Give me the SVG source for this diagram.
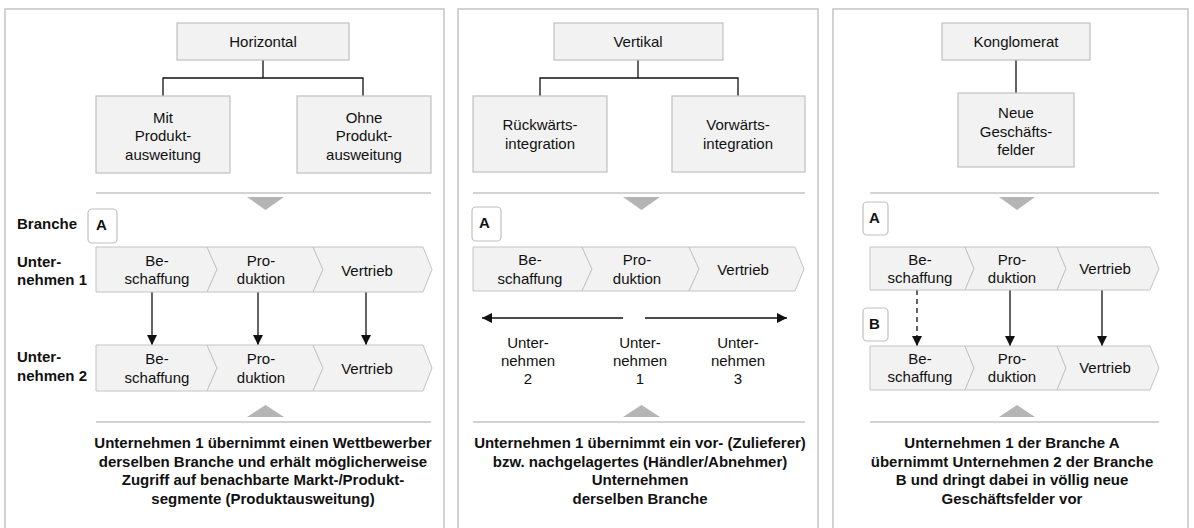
<svg xmlns="http://www.w3.org/2000/svg" width="1194" height="528" viewBox="0 0 1194 528">
<style>
text{font-family:"Liberation Sans",Arial,sans-serif;font-size:15px;fill:#111}
.c{text-anchor:middle}
.b{font-weight:bold}
.frame{fill:#fff;stroke:#c4c4c4;stroke-width:1.5}
.box{fill:#f2f2f2;stroke:#c0c0c0;stroke-width:1.2}
.chev{fill:#f2f2f2;stroke:#c4c4c4;stroke-width:1}
.tag{fill:#fff;stroke:#c0c0c0;stroke-width:1.2}
.sep{stroke:#c4c4c4;stroke-width:1.5;fill:none}
.tri{fill:#b5b5b5}
.tree{stroke:#111;stroke-width:1.3;fill:none}
.arr{stroke:#111;stroke-width:1.3;fill:none;marker-end:url(#ah)}
.dash{stroke-dasharray:5,4}
</style>
<defs>
<marker id="ah" viewBox="0 0 10 10" refX="10" refY="5" markerWidth="10" markerHeight="10" markerUnits="userSpaceOnUse" orient="auto">
<path d="M0,0 L10,5 L0,10 Z" fill="#111"/>
</marker>
</defs>
<rect width="1194" height="528" fill="#fff"/>

<g id="panel-horizontal">
<rect class="frame" x="5" y="9" width="439" height="540"/>
</g>
<g id="panel-vertikal">
<rect class="frame" x="458" y="9" width="360" height="540"/>
</g>
<g id="panel-konglomerat">
<rect class="frame" x="833" y="9" width="355" height="540"/>
</g>

<g id="connectors">
<path class="tree" d="M263,60 V78 M163,96 V78 H363 V96"/>
<path class="tree" d="M638,60 V78 M540,96 V78 H738 V96"/>
<path class="tree" d="M1016,60 V93"/>
<line class="arr" x1="152" y1="292" x2="152" y2="345"/>
<line class="arr" x1="258" y1="292" x2="258" y2="345"/>
<line class="arr" x1="366" y1="292" x2="366" y2="345"/>
<line class="arr" x1="623" y1="318" x2="482" y2="318"/>
<line class="arr" x1="645" y1="318" x2="787" y2="318"/>
<line class="arr dash" x1="917" y1="290" x2="917" y2="346"/>
<line class="arr" x1="1010" y1="290" x2="1010" y2="346"/>
<line class="arr" x1="1102" y1="290" x2="1102" y2="346"/>
</g>

<!-- Left panel -->
<g id="horizontal">
<rect class="box" x="177" y="23" width="172" height="37"/>
<text class="c" x="263" y="47">Horizontal</text>
</g>
<g id="mit-produktausweitung">
<rect class="box" x="96" y="96" width="134" height="77"/>
<text class="c" x="163" y="123">Mit</text>
<text class="c" x="163" y="141">Produkt-</text>
<text class="c" x="163" y="160">ausweitung</text>
</g>
<g id="ohne-produktausweitung">
<rect class="box" x="297" y="96" width="134" height="77"/>
<text class="c" x="364" y="123">Ohne</text>
<text class="c" x="364" y="141">Produkt-</text>
<text class="c" x="364" y="160">ausweitung</text>
</g>
<g id="h-sep-top">
<line class="sep" x1="96" y1="193" x2="431" y2="193"/>
<path class="tri" d="M247,197 H284 L265.5,210 Z"/>
</g>
<g id="h-labels">
<text class="b" x="17" y="229">Branche</text>
<text class="b" x="17" y="267">Unter-</text>
<text class="b" x="17" y="285">nehmen 1</text>
<text class="b" x="17" y="362">Unter-</text>
<text class="b" x="17" y="381">nehmen 2</text>
</g>
<g id="h-tag-a">
<rect class="tag" x="88" y="209" width="29" height="34" rx="4"/>
<text class="b" x="96" y="230">A</text>
</g>
<g id="h-u1">
<path class="chev" d="M96,247 H207 L217,269.5 L207,292 H96 Z"/>
<path class="chev" d="M207,247 H313 L323,269.5 L313,292 H207 L217,269.5 Z"/>
<path class="chev" d="M313,247 H423 L432,269.5 L423,292 H313 L323,269.5 Z"/>
<text class="c" x="157" y="266">Be-</text>
<text class="c" x="157" y="284">schaffung</text>
<text class="c" x="261" y="266">Pro-</text>
<text class="c" x="261" y="284">duktion</text>
<text class="c" x="367" y="276">Vertrieb</text>
</g>
<g id="h-u2">
<path class="chev" d="M96,345 H207 L217,368 L207,391 H96 Z"/>
<path class="chev" d="M207,345 H313 L323,368 L313,391 H207 L217,368 Z"/>
<path class="chev" d="M313,345 H423 L432,368 L423,391 H313 L323,368 Z"/>
<text class="c" x="157" y="364">Be-</text>
<text class="c" x="157" y="383">schaffung</text>
<text class="c" x="261" y="364">Pro-</text>
<text class="c" x="261" y="383">duktion</text>
<text class="c" x="367" y="374">Vertrieb</text>
</g>
<g id="h-sep-bottom">
<path class="tri" d="M247,417 H284 L265.5,405 Z"/>
<line class="sep" x1="96" y1="422" x2="431" y2="422"/>
</g>
<g id="h-desc">
<text class="c b" x="263" y="448">Unternehmen 1 übernimmt einen Wettbewerber</text>
<text class="c b" x="263" y="467">derselben Branche und erhält möglicherweise</text>
<text class="c b" x="263" y="485">Zugriff auf benachbarte Markt-/Produkt-</text>
<text class="c b" x="263" y="504">segmente (Produktausweitung)</text>
</g>

<!-- Middle panel -->
<g id="vertikal">
<rect class="box" x="554" y="23" width="169" height="37"/>
<text class="c" x="638" y="47">Vertikal</text>
</g>
<g id="rueckwaerts">
<rect class="box" x="473" y="96" width="134" height="76"/>
<text class="c" x="540" y="130">Rückwärts-</text>
<text class="c" x="540" y="149">integration</text>
</g>
<g id="vorwaerts">
<rect class="box" x="672" y="96" width="133" height="76"/>
<text class="c" x="738" y="130">Vorwärts-</text>
<text class="c" x="738" y="149">integration</text>
</g>
<g id="v-sep-top">
<line class="sep" x1="473" y1="193" x2="805" y2="193"/>
<path class="tri" d="M623,197 H660 L641.5,210 Z"/>
</g>
<g id="v-tag-a">
<rect class="tag" x="472" y="207" width="29" height="34" rx="4"/>
<text class="b" x="479" y="228">A</text>
</g>
<g id="v-chain">
<path class="chev" d="M473,247 H582 L592,269 L582,291 H473 Z"/>
<path class="chev" d="M582,247 H689 L699,269 L689,291 H582 L592,269 Z"/>
<path class="chev" d="M689,247 H795 L804,269 L795,291 H689 L699,269 Z"/>
<text class="c" x="530" y="265">Be-</text>
<text class="c" x="530" y="284">schaffung</text>
<text class="c" x="637" y="265">Pro-</text>
<text class="c" x="637" y="284">duktion</text>
<text class="c" x="743" y="275">Vertrieb</text>
</g>
<g id="v-u2">
<text class="c" x="528" y="348">Unter-</text>
<text class="c" x="528" y="366">nehmen</text>
<text class="c" x="528" y="384">2</text>
</g>
<g id="v-u1">
<text class="c" x="640" y="348">Unter-</text>
<text class="c" x="640" y="366">nehmen</text>
<text class="c" x="640" y="384">1</text>
</g>
<g id="v-u3">
<text class="c" x="738" y="348">Unter-</text>
<text class="c" x="738" y="366">nehmen</text>
<text class="c" x="738" y="384">3</text>
</g>
<g id="v-sep-bottom">
<path class="tri" d="M623,417 H660 L641.5,405 Z"/>
<line class="sep" x1="473" y1="422" x2="805" y2="422"/>
</g>
<g id="v-desc">
<text class="c b" x="640" y="448">Unternehmen 1 übernimmt ein vor- (Zulieferer)</text>
<text class="c b" x="640" y="467">bzw. nachgelagertes (Händler/Abnehmer)</text>
<text class="c b" x="640" y="485">Unternehmen</text>
<text class="c b" x="640" y="504">derselben Branche</text>
</g>

<!-- Right panel -->
<g id="konglomerat">
<rect class="box" x="942" y="23" width="148" height="37"/>
<text class="c" x="1016" y="47">Konglomerat</text>
</g>
<g id="neue-geschaeftsfelder">
<rect class="box" x="958" y="93" width="116" height="74"/>
<text class="c" x="1016" y="118">Neue</text>
<text class="c" x="1016" y="137">Geschäfts-</text>
<text class="c" x="1016" y="155">felder</text>
</g>
<g id="k-sep-top">
<line class="sep" x1="870" y1="193" x2="1159" y2="193"/>
<path class="tri" d="M999,197 H1035 L1017,210 Z"/>
</g>
<g id="k-tag-a">
<rect class="tag" x="863" y="202" width="25" height="33" rx="4"/>
<text class="b" x="869" y="223">A</text>
</g>
<g id="k-row-a">
<path class="chev" d="M870,247 H965 L974,268.5 L965,290 H870 Z"/>
<path class="chev" d="M965,247 H1057 L1066,268.5 L1057,290 H965 L974,268.5 Z"/>
<path class="chev" d="M1057,247 H1150 L1159,268.5 L1150,290 H1057 L1066,268.5 Z"/>
<text class="c" x="920" y="265">Be-</text>
<text class="c" x="920" y="283">schaffung</text>
<text class="c" x="1012" y="265">Pro-</text>
<text class="c" x="1012" y="283">duktion</text>
<text class="c" x="1105" y="274">Vertrieb</text>
</g>
<g id="k-tag-b">
<rect class="tag" x="863" y="308" width="25" height="33" rx="4"/>
<text class="b" x="869" y="329">B</text>
</g>
<g id="k-row-b">
<path class="chev" d="M870,346 H965 L974,368 L965,390 H870 Z"/>
<path class="chev" d="M965,346 H1057 L1066,368 L1057,390 H965 L974,368 Z"/>
<path class="chev" d="M1057,346 H1150 L1159,368 L1150,390 H1057 L1066,368 Z"/>
<text class="c" x="920" y="364">Be-</text>
<text class="c" x="920" y="382">schaffung</text>
<text class="c" x="1012" y="364">Pro-</text>
<text class="c" x="1012" y="382">duktion</text>
<text class="c" x="1105" y="373">Vertrieb</text>
</g>
<g id="k-sep-bottom">
<path class="tri" d="M999,417 H1035 L1017,405 Z"/>
<line class="sep" x1="870" y1="422" x2="1159" y2="422"/>
</g>
<g id="k-desc">
<text class="c b" x="1012" y="448">Unternehmen 1 der Branche A</text>
<text class="c b" x="1012" y="467">übernimmt Unternehmen 2 der Branche</text>
<text class="c b" x="1012" y="485">B und dringt dabei in völlig neue</text>
<text class="c b" x="1012" y="504">Geschäftsfelder vor</text>
</g>
</svg>
